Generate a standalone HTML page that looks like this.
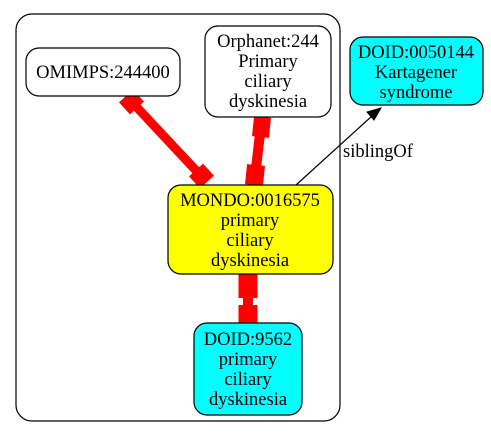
<!DOCTYPE html>
<html><head><style>body{margin:0;background:#fff}svg{display:block}svg text{font-family:"Liberation Serif","Times New Roman",serif;font-size:18.5px}</style></head><body>
<svg width="491" height="443" viewBox="0 0 491 443" xmlns="http://www.w3.org/2000/svg" text-anchor="middle">
<rect x="16" y="14" width="324" height="407" rx="16" fill="none" stroke="#000" stroke-width="1.2"/>
<g stroke="#f00" fill="none">
<line x1="130" y1="100" x2="203" y2="178" stroke-width="9"/>
<line x1="126" y1="96" x2="137" y2="108" stroke-width="19"/>
<line x1="196" y1="170" x2="207" y2="182" stroke-width="19"/>
<line x1="262" y1="117" x2="254" y2="185" stroke-width="10"/>
<line x1="262.5" y1="117" x2="260.5" y2="137" stroke-width="17"/>
<line x1="256" y1="165" x2="254" y2="185" stroke-width="18"/>
<line x1="248" y1="274" x2="248" y2="298" stroke-width="19"/>
<line x1="248" y1="298" x2="248" y2="306" stroke-width="10"/>
<line x1="248" y1="305" x2="248" y2="323" stroke-width="19"/>
</g>
<line x1="296" y1="185" x2="372" y2="116" stroke="#000" stroke-width="1.2"/>
<polygon points="381,108 367,112 374,120" fill="#000" stroke="#000"/>
<text x="378" y="157">siblingOf</text>
<rect x="26" y="48" width="154" height="48" rx="13" fill="#fff" stroke="#000" stroke-width="1.2"/>
<text x="103" y="78">OMIMPS:244400</text>
<rect x="205" y="26" width="126" height="91" rx="13" fill="#fff" stroke="#000" stroke-width="1.2"/>
<text x="268" y="47">Orphanet:244</text>
<text x="268" y="67">Primary</text>
<text x="268" y="87">ciliary</text>
<text x="268" y="107">dyskinesia</text>
<rect x="350" y="37" width="133" height="68" rx="13" fill="#0ff" stroke="#000" stroke-width="1.2"/>
<text x="416" y="58">DOID:0050144</text>
<text x="416" y="78">Kartagener</text>
<text x="416" y="98">syndrome</text>
<rect x="168" y="185" width="165" height="89" rx="13" fill="#ff0" stroke="#000" stroke-width="1.2"/>
<text x="250" y="206">MONDO:0016575</text>
<text x="250" y="226">primary</text>
<text x="250" y="246">ciliary</text>
<text x="250" y="266">dyskinesia</text>
<rect x="194" y="323" width="108" height="92" rx="13" fill="#0ff" stroke="#000" stroke-width="1.2"/>
<text x="248" y="345">DOID:9562</text>
<text x="248" y="365">primary</text>
<text x="248" y="385">ciliary</text>
<text x="248" y="405">dyskinesia</text>
</svg>
</body></html>
